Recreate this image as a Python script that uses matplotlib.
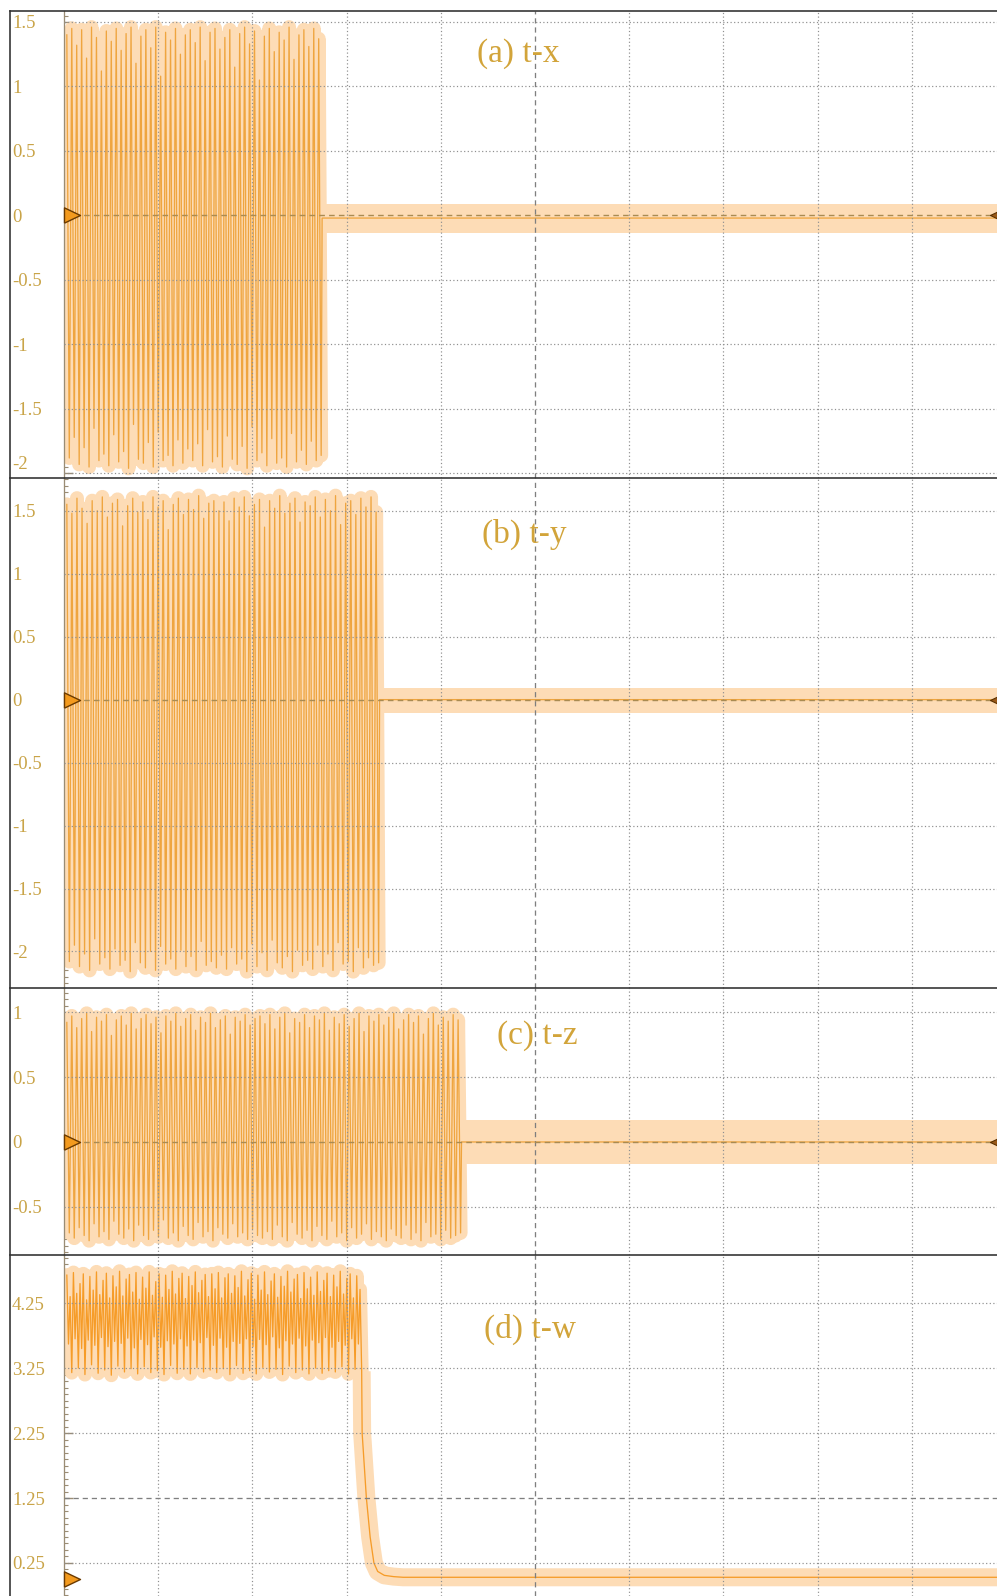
import numpy as np
import matplotlib.pyplot as plt
from matplotlib.lines import Line2D
from matplotlib.ticker import MultipleLocator

W, H, DPI = 997, 1596, 100
PT = 72.0 / DPI  # points per pixel

# ── Data (x in screen divisions, 0..10) ───────────────────────────────────
# successive positive / negative extremes of each trace
a_hi = [1.40, 1.45, 1.32, 1.44, 1.22, 1.46, 1.38, 1.12, 1.43, 1.35, 1.45, 1.28, 1.41,
        1.46, 1.18, 1.39, 1.44, 1.30, 1.46, 1.08, 1.42, 1.36, 1.45, 1.25, 1.40, 1.44,
        1.34, 1.46, 1.20, 1.42, 1.45, 1.29, 1.38, 1.44, 1.15, 1.41, 1.46, 1.33, 1.43,
        1.05, 1.39, 1.45, 1.27, 1.42, 1.36, 1.46, 1.21, 1.40, 1.44, 1.31, 1.45, 1.37]
a_lo = [-1.88, -1.72, -1.93, -1.80, -1.95, -1.65, -1.90, -1.85, -1.94, -1.70, -1.91, -1.83, -1.96,
        -1.62, -1.89, -1.92, -1.76, -1.95, -1.68, -1.90, -1.86, -1.94, -1.74, -1.92, -1.81, -1.90,
        -1.77, -1.94, -1.66, -1.91, -1.87, -1.95, -1.71, -1.89, -1.93, -1.79, -1.96, -1.64, -1.90,
        -1.84, -1.94, -1.73, -1.92, -1.88, -1.95, -1.69, -1.91, -1.82, -1.93, -1.75, -1.90, -1.86]

b_hi = [1.55, 1.48, 1.60, 1.52, 1.40, 1.58, 1.50, 1.61, 1.45, 1.56, 1.59, 1.38, 1.54, 1.60, 1.49, 1.57,
        1.43, 1.61, 1.53, 1.58, 1.35, 1.55, 1.60, 1.47, 1.59, 1.51, 1.62, 1.44, 1.56, 1.58, 1.50,
        1.57, 1.42, 1.60, 1.53, 1.61, 1.46, 1.55, 1.59, 1.37, 1.58, 1.52, 1.62, 1.48, 1.56, 1.60,
        1.41, 1.57, 1.54, 1.61, 1.45, 1.59, 1.50, 1.62, 1.39, 1.56, 1.58, 1.47, 1.60, 1.53, 1.61, 1.49]
b_lo = [-2.08, -1.95, -2.12, -2.02, -2.15, -1.90, -2.10, -2.05, -2.14, -1.98, -2.11, -2.07, -2.16, -1.93, -2.09, -2.13,
        -2.00, -2.15, -1.96, -2.10, -2.06, -2.14, -1.99, -2.12, -2.04, -2.15, -1.92, -2.11, -2.08, -2.13, -2.03,
        -2.14, -1.97, -2.10, -2.06, -2.16, -1.94, -2.12, -2.01, -2.15, -1.91, -2.09, -2.13, -2.04, -2.16, -1.99,
        -2.11, -2.07, -2.14, -1.95, -2.12, -2.02, -2.15, -1.93, -2.10, -2.08, -2.16, -1.97, -2.13, -2.05, -2.11, -2.09]

c_hi = [0.92, 0.97, 0.88, 0.95, 0.99, 0.85, 0.96, 0.93, 0.98, 0.82, 0.94, 0.97, 0.90, 0.99, 0.87, 0.95, 0.98, 0.91, 0.96, 0.84,
        0.97, 0.93, 0.99, 0.89, 0.95, 0.98, 0.86, 0.96, 0.92, 0.99, 0.88, 0.94, 0.97, 0.83, 0.96, 0.93, 0.98, 0.90, 0.95, 0.97,
        0.91, 0.98, 0.87, 0.96, 0.99, 0.84, 0.95, 0.92, 0.98, 0.88, 0.97, 0.94, 0.99, 0.86, 0.96, 0.91, 0.98, 0.89, 0.95, 0.99,
        0.85, 0.97, 0.93, 0.98, 0.90, 0.96, 0.99, 0.87, 0.94, 0.98, 0.92, 0.97, 0.83, 0.95, 0.99, 0.90, 0.96, 0.93, 0.98, 0.94]
c_lo = [-0.70, -0.74, -0.66, -0.72, -0.76, -0.63, -0.73, -0.69, -0.75, -0.61, -0.71, -0.74, -0.67, -0.76, -0.64, -0.72, -0.75, -0.68, -0.73, -0.60,
        -0.74, -0.70, -0.76, -0.65, -0.72, -0.75, -0.62, -0.73, -0.69, -0.76, -0.66, -0.71, -0.74, -0.63, -0.73, -0.70, -0.75, -0.67, -0.72, -0.74,
        -0.69, -0.75, -0.64, -0.73, -0.76, -0.62, -0.71, -0.74, -0.68, -0.76, -0.65, -0.72, -0.75, -0.61, -0.73, -0.70, -0.76, -0.66, -0.74, -0.71,
        -0.63, -0.75, -0.69, -0.73, -0.76, -0.67, -0.72, -0.74, -0.64, -0.75, -0.70, -0.76, -0.62, -0.73, -0.71, -0.75, -0.68, -0.74, -0.72, -0.70]

d_hi = [4.68, 4.35, 4.72, 4.40, 4.55, 4.70, 4.30, 4.66, 4.45, 4.73, 4.38, 4.60, 4.71, 4.33, 4.67, 4.50,
        4.74, 4.36, 4.62, 4.69, 4.42, 4.72, 4.31, 4.65, 4.48, 4.73, 4.37, 4.58, 4.70, 4.34, 4.68, 4.46,
        4.74, 4.39, 4.63, 4.71, 4.32, 4.66, 4.52, 4.73, 4.41, 4.60, 4.69, 4.35, 4.70, 4.47,
        4.72, 4.33, 4.64, 4.70, 4.40, 4.67, 4.49, 4.74, 4.36, 4.61, 4.71, 4.31, 4.68, 4.45, 4.73,
        4.38, 4.59, 4.70, 4.34, 4.66, 4.51, 4.74, 4.42, 4.62, 4.69, 4.32, 4.72, 4.47, 4.65, 4.37,
        4.73, 4.43, 4.60, 4.71, 4.35, 4.68, 4.50, 4.74, 4.39, 4.63, 4.70, 4.33, 4.67, 4.46]
d_lo = [3.62, 3.18, 3.70, 3.25, 3.55, 3.15, 3.68, 3.30, 3.60, 3.17, 3.72, 3.22, 3.58, 3.14, 3.66, 3.28,
        3.63, 3.19, 3.71, 3.24, 3.56, 3.16, 3.69, 3.27, 3.61, 3.18, 3.73, 3.21, 3.57, 3.15, 3.67, 3.29,
        3.62, 3.17, 3.70, 3.23, 3.59, 3.16, 3.68, 3.26, 3.64, 3.19, 3.72, 3.22, 3.60, 3.18,
        3.71, 3.24, 3.57, 3.15, 3.66, 3.29, 3.63, 3.17, 3.70, 3.21, 3.58, 3.16, 3.69, 3.26, 3.61,
        3.19, 3.73, 3.23, 3.56, 3.15, 3.67, 3.28, 3.62, 3.18, 3.71, 3.22, 3.59, 3.16, 3.68, 3.25,
        3.64, 3.17, 3.72, 3.21, 3.57, 3.19, 3.66, 3.27, 3.60, 3.16, 3.70, 3.23, 3.62, 3.20]

# where each trace stops oscillating, and what follows
t_start = 0.03
t_stop = [2.73, 3.34, 4.21, 3.16]
a_tail_t, a_tail_y = [2.74, 10.6], [-0.02, -0.02]
b_tail_t, b_tail_y = [3.35, 10.6], [0.0, 0.0]
c_tail_t, c_tail_y = [4.22, 10.6], [0.0, 0.0]
d_tail_t = [3.165, 3.21, 3.25, 3.29, 3.33, 3.40, 3.50, 3.60, 10.6]
d_tail_y = [2.25, 1.25, 0.65, 0.25, 0.12, 0.06, 0.04, 0.03, 0.03]

yticks_a = [-2, -1.5, -1, -0.5, 0, 0.5, 1, 1.5]
yticks_b = [-2, -1.5, -1, -0.5, 0, 0.5, 1, 1.5]
yticks_c = [-0.5, 0, 0.5, 1]
yticks_d = [0.25, 1.25, 2.25, 3.25, 4.25]

titles = ['(a) t-x', '(b) t-y', '(c) t-z', '(d) t-w']

# ── Layout (pixels) ───────────────────────────────────────────────────────
rows = [(11, 478), (478, 988), (988, 1255), (1255, 1596)]
ylims = [(-2.035, 1.585), (-2.29, 1.76), (-0.87, 1.185), (-0.258, 4.99)]
band_px = [14.5, 12.5, 22, 9]           # half width of the glow on the flat part
title_px = [(518, 54), (524, 534), (537, 1036), (530, 1329)]
center_dash = [0, 0, 0, 1.25]
tail_joins = [False, False, False, True]  # panel (d) decays from the last peak

LIGHT = '#FDDCB6'
TRACE = ['#EFA53F', '#EFA53F', '#EFA53F', '#F69C28']
GOLD = '#C9A448'
GRID = '#8f8f8f'
SPINE = '#9a8c74'

panels = [
    (a_hi, a_lo, a_tail_t, a_tail_y, yticks_a),
    (b_hi, b_lo, b_tail_t, b_tail_y, yticks_b),
    (c_hi, c_lo, c_tail_t, c_tail_y, yticks_c),
    (d_hi, d_lo, d_tail_t, d_tail_y, yticks_d),
]

fig = plt.figure(figsize=(W / DPI, H / DPI), dpi=DPI)
fig.patch.set_facecolor('white')

x0, x1 = 64, 1006
left_marker = [(0, -1), (2.1, 0), (0, 1), (0, -1)]
right_marker = [(0, -1), (-2.1, 0), (0, 1), (0, -1)]

for i, (hi, lo, tail_t, tail_y, ticks) in enumerate(panels):
    top, bot = rows[i]
    ax = fig.add_axes([x0 / W, 1 - bot / H, (x1 - x0) / W, (bot - top) / H])
    ax.set_xlim(0, 10)
    ax.set_ylim(*ylims[i])
    ax.patch.set_alpha(0)

    ext = np.empty(2 * len(hi))
    ext[0::2] = hi
    ext[1::2] = lo
    t = np.linspace(t_start, t_stop[i], len(ext))

    # glow (persistence) + trace
    ax.plot(t, ext, color=LIGHT, lw=14 * PT, solid_joinstyle='round',
            solid_capstyle='round', zorder=2)
    if tail_joins[i]:
        gt, gy = np.r_[t[-1], tail_t], np.r_[ext[-1], tail_y]
    else:
        gt, gy = np.asarray(tail_t), np.asarray(tail_y)
    ax.plot(gt, gy, color=LIGHT, lw=2 * band_px[i] * PT, solid_capstyle='butt',
            solid_joinstyle='round', zorder=2)
    ax.plot(np.r_[t, tail_t], np.r_[ext, tail_y], color=TRACE[i], lw=1.3 * PT,
            zorder=3)

    # graticule
    for k in range(1, 10):
        if k == 5:
            ax.axvline(k, color='#7f7f7f', lw=1.3 * PT, ls=(0, (4, 3)), zorder=4)
        else:
            ax.axvline(k, color=GRID, lw=1.2 * PT, ls=(0, (1, 2)), zorder=4)
    for v in ticks:
        if v == center_dash[i]:
            continue
        ax.axhline(v, color=GRID, lw=1.2 * PT, ls=(0, (1, 2)), zorder=4)
    if center_dash[i] == 0:
        ax.axhline(0, color='#a98b52', lw=1.4 * PT, ls=(0, (4, 3)), zorder=5)
    else:
        ax.axhline(center_dash[i], color='#7f7f7f', lw=1.3 * PT, ls=(0, (4, 3)), zorder=4)

    # ground reference markers
    ax.plot([0], [0], marker=left_marker, ms=32 * PT, color='#F39A1E',
            mec='#6B3A00', mew=1.0, clip_on=False, zorder=6)
    if i < 3:
        ax.plot([9.96], [0], marker=right_marker, ms=24 * PT, color='#9A5A1A',
                mec='#5A3000', mew=0.8, clip_on=False, zorder=6)

    # axes styling
    for s in ['top', 'right', 'bottom']:
        ax.spines[s].set_visible(False)
    ax.spines['left'].set_color(SPINE)
    ax.spines['left'].set_linewidth(1.3 * PT)
    ax.set_xticks([])
    step = ticks[1] - ticks[0]
    ax.set_yticks(ticks)
    ax.set_yticklabels([f'{v:g}' for v in ticks])
    ax.yaxis.set_minor_locator(MultipleLocator(step / 10, offset=ticks[0]))
    ax.tick_params(axis='y', which='major', direction='in', length=9 * PT,
                   width=1.0, color=SPINE, labelsize=13.5, labelcolor=GOLD,
                   pad=52 * PT)
    ax.tick_params(axis='y', which='minor', direction='in', length=4 * PT,
                   width=0.8, color=SPINE)
    for lab in ax.get_yticklabels():
        lab.set_horizontalalignment('left')
        lab.set_fontfamily('Liberation Serif')

    tx, ty = title_px[i]
    fig.text(tx / W, 1 - ty / H, titles[i], ha='center', va='center',
             fontsize=24, family='Liberation Serif', color='#D2A43A', zorder=7)

# the "-2" label of panel (a) sits a bit higher in the original
lab = fig.axes[0].get_yticklabels()[0]
lab.set_verticalalignment('bottom')

# outer frame and panel separators
for top, bot in rows:
    fig.add_artist(Line2D([10 / W, 1], [1 - top / H] * 2, color='#2f2f2f', lw=1.6 * PT))
fig.add_artist(Line2D([10 / W] * 2, [1 - 11 / H, 0], color='#2f2f2f', lw=1.6 * PT))

fig.savefig('out.png', dpi=DPI, facecolor='white')
